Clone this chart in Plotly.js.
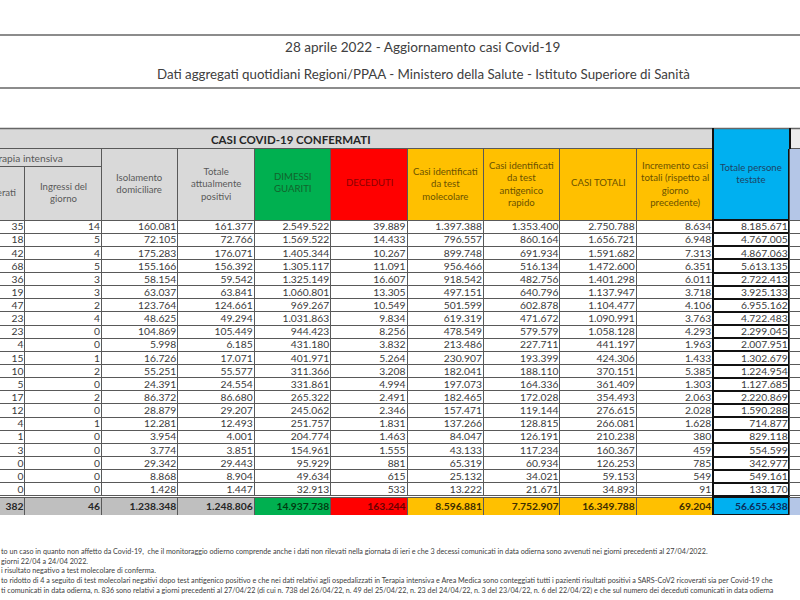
<!DOCTYPE html>
<html><head><meta charset="utf-8">
<script src="https://cdn.plot.ly/plotly-3.0.1.min.js"></script>
<style>
html,body{margin:0;padding:0;overflow:hidden;background:#fff;width:800px;height:600px}
#chart{position:absolute;left:-60px;top:0;width:1000px;height:600px}
</style>
</head><body><div id="chart"></div>
<script>
// ---- data ----
const headerLabels = ["Ricoverati","Ingressi del<br>giorno","Isolamento<br>domiciliare","Totale<br>attualmente<br>positivi","DIMESSI<br>GUARITI","DECEDUTI","Casi identificati<br>da test<br>molecolare","Casi identificati<br>da test<br>antigenico<br>rapido","CASI TOTALI","Incremento casi<br>totali (rispetto al<br>giorno<br>precedente)","Totale persone<br>testate",""];
const tiRicoverati = ["35","18","42","68","36","19","47","23","23","4","15","10","5","17","12","4","1","3","0","0","0"];
const tiIngressi = ["14","5","4","5","3","3","2","4","0","0","1","2","0","2","0","1","0","0","0","0","0"];
const isolamento = ["160.081","72.105","175.283","155.166","58.154","63.037","123.764","48.625","104.869","5.998","16.726","55.251","24.391","86.372","28.879","12.281","3.954","3.774","29.342","8.868","1.428"];
const totalePositivi = ["161.377","72.766","176.071","156.392","59.542","63.841","124.661","49.294","105.449","6.185","17.071","55.577","24.554","86.680","29.207","12.493","4.001","3.851","29.443","8.904","1.447"];
const dimessiGuariti = ["2.549.522","1.569.522","1.405.344","1.305.117","1.325.149","1.060.801","969.267","1.031.863","944.423","431.180","401.971","311.366","331.861","265.322","245.062","251.757","204.774","154.961","95.929","49.634","32.913"];
const deceduti = ["39.889","14.433","10.267","11.091","16.607","13.305","10.549","9.834","8.256","3.832","5.264","3.208","4.994","2.491","2.346","1.831","1.463","1.555","881","615","533"];
const casiMolecolare = ["1.397.388","796.557","899.748","956.466","918.542","497.151","501.599","619.319","478.549","213.486","230.907","182.041","197.073","182.465","157.471","137.266","84.047","43.133","65.319","25.132","13.222"];
const casiAntigenico = ["1.353.400","860.164","691.934","516.134","482.756","640.796","602.878","471.672","579.579","227.711","193.399","188.110","164.336","172.028","119.144","128.815","126.191","117.234","60.934","34.021","21.671"];
const casiTotali = ["2.750.788","1.656.721","1.591.682","1.472.600","1.401.298","1.137.947","1.104.477","1.090.991","1.058.128","441.197","424.306","370.151","361.409","354.493","276.615","266.081","210.238","160.367","126.253","59.153","34.893"];
const incremento = ["8.634","6.948","7.313","6.351","6.011","3.718","4.106","3.763","4.293","1.963","1.433","5.385","1.303","2.063","2.028","1.628","380","459","785","549","91"];
const personeTestate = ["8.185.671","4.767.005","4.867.063","5.613.135","2.722.413","3.925.133","6.955.162","4.722.483","2.299.045","2.007.951","1.302.679","1.224.954","1.127.685","2.220.869","1.590.288","714.877","829.118","554.599","342.977","549.161","133.170"];
const hiddenColumn = tiRicoverati.map(() => "");
const totals = ["382","46","1.238.348","1.248.806","14.937.738","163.244","8.596.881","7.752.907","16.349.788","69.204","56.655.438",""];
const titleText = "28 aprile 2022 - Aggiornamento casi Covid-19";
const subtitleText = "Dati aggregati quotidiani Regioni/PPAA - Ministero della Salute - Istituto Superiore di Sanità";
const bandText = "CASI COVID-19 CONFERMATI";
const groupText = "Terapia intensiva";
const footnotes = [
 "to un caso in quanto non affetto da Covid-19,  che il monitoraggio odierno comprende anche i dati non rilevati nella giornata di ieri e che 3 decessi comunicati in data odierna sono avvenuti nei giorni precedenti al 27/04/2022.",
 "giorni 22/04 a 24/04 2022.",
 "i risultato negativo a test molecolare di conferma.",
 "to ridotto di 4 a seguito di test molecolari negativi dopo test antigenico positivo e che nei dati relativi agli ospedalizzati in Terapia intensiva e Area Medica sono conteggiati tutti i pazienti risultati positivi a SARS-CoV2 ricoverati sia per Covid-19 che",
 "ti comunicati in data odierna, n. 836 sono relativi a giorni precedenti al 27/04/22 (di cui n. 738 del 26/04/22, n. 49 del 25/04/22, n. 23 del 24/04/22, n. 3 del 23/04/22, n. 6 del 22/04/22) e che sul numero dei deceduti comunicati in data odierna"
];

// ---- geometry & styling ----
const OFF = 60, W = 1000, H = 600;
const px = X => (X + OFF) / W;
const py = Y => 1 - Y / H;
const FONT = "Lato, 'Open Sans', sans-serif";
const colW = 76.45, x0 = -51.45;
const nCol = headerLabels.length;
const TXT_DX = 6.5;     // compensates Plotly's 8px cell padding
const headFill = ["#d9d9d9","#d9d9d9","#d9d9d9","#d9d9d9","#00b050","#ff0000","#ffc000","#ffc000","#ffc000","#ffc000","#00b0f0","#b4c6e7"];
const headFont = ["#595959","#595959","#595959","#595959","#12632c","#8b0000","#6b5200","#6b5200","#6b5200","#6b5200","#1d4466","#404040"];
const totFill = ["#bfbfbf","#bfbfbf","#bfbfbf","#bfbfbf","#00b050","#ff0000","#ffc000","#ffc000","#ffc000","#ffc000","#00b0f0","#b4c6e7"];
const totFont = ["#262626","#262626","#262626","#262626","#003d12","#6b0000","#3d2d00","#3d2d00","#3d2d00","#3d2d00","#0a2e5c","#262626"];
const lineW = [1,1,1,1,1,1,1,1,1,1,2,1];
const lineC = ["#595959","#595959","#595959","#595959","#595959","#595959","#595959","#595959","#595959","#595959","#111111","#595959"];
const headCenterY = [192,192,183.5,183.5,183,183,183.5,183.5,183,183.5,173,183.5];
const headDX = [8,0,0,0,0,0,0,0,0,0,0,0];

const columns = [tiRicoverati, tiIngressi, isolamento, totalePositivi, dimessiGuariti, deceduti, casiMolecolare, casiAntigenico, casiTotali, incremento, personeTestate, hiddenColumn];
const widths = Array(nCol).fill(colW);
const gridX = [px(x0), px(x0 + colW * nCol)];
const textX = [px(x0 + TXT_DX), px(x0 + colW * nCol + TXT_DX)];
const blank = a => a.map(() => "");
const CLEAR = "rgba(0,0,0,0)";

// grid tables (fills + lines), same rows as the data
const gridTable = {
  type: "table", domain: {x: gridX, y: [py(497), py(148)]}, columnwidth: widths,
  header: {values: blank(headerLabels), height: 72, fill: {color: headFill}, line: {color: lineC, width: lineW}},
  cells: {values: columns.map(blank), height: 13.14, fill: {color: "#ffffff"}, line: {color: lineC, width: lineW}}
};
const totalGrid = {
  type: "table", domain: {x: gridX, y: [py(516), py(497)]}, columnwidth: widths,
  header: {values: blank(totals), height: 18, fill: {color: totFill}, line: {color: lineC, width: lineW}},
  cells: {values: totals.map(() => [])}
};
// text layers (transparent) holding the values
const textTable = {
  type: "table", domain: {x: textX, y: [py(497), py(142.5)]}, columnwidth: widths,
  header: {values: blank(headerLabels), height: 72, fill: {color: CLEAR}, line: {color: CLEAR, width: 0}},
  cells: {values: columns, height: 13.14, align: "right", fill: {color: CLEAR}, line: {color: CLEAR, width: 0},
          font: {family: FONT, size: 10.3, color: "#3a3a3a"}}
};
const totalText = {
  type: "table", domain: {x: textX, y: [py(516), py(494)]}, columnwidth: widths,
  header: {values: totals, height: 18, align: "right", fill: {color: CLEAR}, line: {color: CLEAR, width: 0},
           font: {family: FONT, size: 10.3, color: totFont, weight: "bold"}},
  cells: {values: totals.map(() => [])}
};

const grayLine = {color: "#8c8c8c", width: 2};
const shapes = [
  {type: "line", xref: "paper", yref: "paper", x0: 0, x1: 1, y0: py(35), y1: py(35), line: grayLine},
  {type: "line", xref: "paper", yref: "paper", x0: 0, x1: 1, y0: py(88), y1: py(88), line: grayLine},
  {type: "rect", xref: "paper", yref: "paper", x0: 0, x1: px(713), y0: py(148), y1: py(129), fillcolor: "#d9d9d9", line: {width: 0}},
  {type: "rect", xref: "paper", yref: "paper", x0: px(790), x1: 1, y0: py(148), y1: py(129), fillcolor: "#ececec", line: {width: 0}},
  {type: "rect", xref: "paper", yref: "paper", x0: px(713), x1: px(790), y0: py(149), y1: py(128), fillcolor: "#00b0f0", line: {width: 0}},
  {type: "line", xref: "paper", yref: "paper", x0: 0, x1: 1, y0: py(128.5), y1: py(128.5), line: {color: "#666", width: 1.5}},
  {type: "line", xref: "paper", yref: "paper", x0: px(713), x1: px(713), y0: py(149), y1: py(128), line: {color: "#111", width: 2}},
  {type: "line", xref: "paper", yref: "paper", x0: px(790), x1: px(790), y0: py(149), y1: py(128), line: {color: "#111", width: 2}}
];

const annotations = [
  {text: titleText, x: px(422), y: py(47.5), xref: "paper", yref: "paper", showarrow: false, xanchor: "center", yanchor: "middle", font: {family: FONT, size: 13.6, color: "#404040"}},
  {text: subtitleText, x: px(423), y: py(74), xref: "paper", yref: "paper", showarrow: false, xanchor: "center", yanchor: "middle", font: {family: FONT, size: 13.3, color: "#404040"}},
  {text: bandText, x: px(291), y: py(139), xref: "paper", yref: "paper", showarrow: false, xanchor: "center", yanchor: "middle", font: {family: FONT, size: 11.5, color: "#262626", weight: "bold"}},
  {text: groupText, x: px(25), y: py(157.5), xref: "paper", yref: "paper", showarrow: false, xanchor: "center", yanchor: "middle",
   width: 151, height: 17, borderpad: 0, bgcolor: "#d9d9d9", bordercolor: "#595959", borderwidth: 1,
   font: {family: FONT, size: 10.2, color: "#595959"}}
];
// header labels, centred in their cells
headerLabels.forEach((lab, c) => {
  if (!lab) return;
  const cx = x0 + colW * (c + 0.5) + headDX[c];
  annotations.push({
    text: lab, x: px(cx), y: py(headCenterY[c]), align: "center",
    xref: "paper", yref: "paper", showarrow: false, xanchor: "center", yanchor: "middle",
    font: {family: FONT, size: 9.6, color: headFont[c]}
  });
});
const footY = [551, 561, 570, 580, 590];
footnotes.forEach((t, i) => annotations.push({
  text: t, x: px(-1), y: py(footY[i]), xref: "paper", yref: "paper", showarrow: false,
  xanchor: "left", yanchor: "middle", font: {family: FONT, size: 7.2, color: "#404040"}
}));

Plotly.newPlot("chart", [gridTable, totalGrid, textTable, totalText], {
  width: W, height: H, margin: {l: 0, r: 0, t: 0, b: 0},
  paper_bgcolor: "#ffffff", shapes: shapes, annotations: annotations, showlegend: false
}, {staticPlot: true, displayModeBar: false});
</script>
</body></html>
